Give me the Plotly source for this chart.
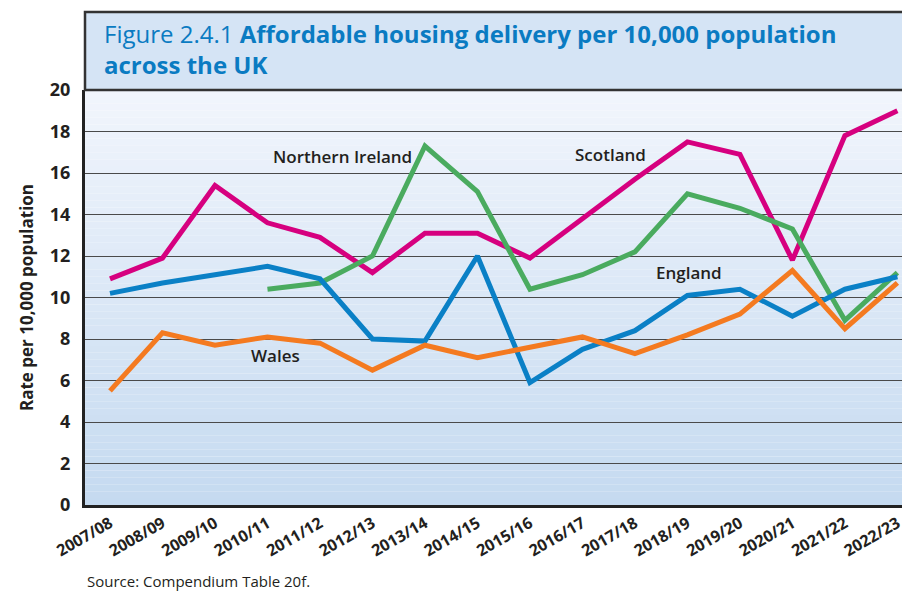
import plotly.graph_objects as go

years = ["2007/08", "2008/09", "2009/10", "2010/11", "2011/12", "2012/13", "2013/14", "2014/15",
         "2015/16", "2016/17", "2017/18", "2018/19", "2019/20", "2020/21", "2021/22", "2022/23"]
scotland = [10.9, 11.9, 15.4, 13.6, 12.9, 11.2, 13.1, 13.1, 11.9, 13.8, 15.7, 17.5, 16.9, 11.8, 17.8, 19.0]
northern_ireland = [None, None, None, 10.4, 10.7, 12.0, 17.3, 15.1, 10.4, 11.1, 12.2, 15.0, 14.3, 13.3, 8.9, 11.2]
england = [10.2, 10.7, 11.1, 11.5, 10.9, 8.0, 7.9, 12.0, 5.9, 7.5, 8.4, 10.1, 10.4, 9.1, 10.4, 11.0]
wales = [5.5, 8.3, 7.7, 8.1, 7.8, 6.5, 7.7, 7.1, 7.6, 8.1, 7.3, 8.2, 9.2, 11.3, 8.5, 10.7]
y_ticks = [0, 2, 4, 6, 8, 10, 12, 14, 16, 18, 20]

FONT = "Open Sans"
DARK = "#231f20"

series = [
    ("Scotland", scotland, "#d6007f"),
    ("Northern Ireland", northern_ireland, "#4aab5f"),
    ("England", england, "#0a80c6"),
    ("Wales", wales, "#f47a20"),
]

fig = go.Figure()
for name, vals, col in series:
    fig.add_trace(go.Scatter(x=list(range(len(years))), y=vals, name=name, mode="lines",
                             line=dict(color=col, width=5), connectgaps=False,
                             showlegend=False, hoverinfo="skip"))

# gradient background of plot area
top = (241, 245, 252)
bot = (197, 218, 240)
n = 60
for i in range(n):
    t = i / (n - 1)
    c = tuple(round(top[k] + (bot[k] - top[k]) * t) for k in range(3))
    fig.add_shape(type="rect", xref="x domain", yref="y domain",
                  x0=0, x1=1, y0=1 - i / n, y1=1 - (i + 1) / n,
                  fillcolor="rgb(%d,%d,%d)" % c, line=dict(width=0), layer="below")

# title box
fig.add_shape(type="rect", xref="paper", yref="paper", x0=0, x1=1.01,
              y0=1.0, y1=1 + 78 / 415, fillcolor="#d5e4f5",
              line=dict(color="#333333", width=2.5), layer="above")

labels = [("Northern Ireland", 4.42, 16.8), ("Scotland", 9.53, 16.9),
          ("England", 11.03, 11.2), ("Wales", 3.16, 7.2)]
for txt, xi, yv in labels:
    fig.add_annotation(x=xi, y=yv, xref="x", yref="y", text=txt, showarrow=False,
                       font=dict(family=FONT, size=17, color=DARK, weight=600))

fig.add_annotation(xref="paper", yref="paper", x=0, y=-64 / 415, xanchor="left", yanchor="top",
                   showarrow=False, text="Source: Compendium Table 20f.",
                   font=dict(family=FONT, size=15, color=DARK))

fig.add_annotation(xref="paper", yref="paper", x=0.021, y=1 + 75 / 415, xanchor="left", yanchor="top",
                   align="left", showarrow=False,
                   text="Figure 2.4.1 <b>Affordable housing delivery per 10,000 population<br>across the UK</b>",
                   font=dict(family=FONT, size=24, color="#0a7bc2"))

fig.update_layout(
    width=902, height=587,
    margin=dict(l=77, r=0, t=82, b=90),
    paper_bgcolor="white", plot_bgcolor="rgba(0,0,0,0)",
    font=dict(family=FONT, color=DARK),
)
fig.update_xaxes(
    tickmode="array", tickvals=list(range(len(years))), ticktext=years,
    range=[-0.476, 15.24], tickangle=-30, showgrid=False, zeroline=False,
    showline=True, linecolor="#222222", linewidth=3, ticks="",
    tickfont=dict(family=FONT, size=16, color=DARK, weight=700),
)
fig.update_yaxes(
    range=[0, 20], tickvals=y_ticks, showgrid=True, gridcolor="#4a4a4a", gridwidth=1.3,
    zeroline=False, showline=True, linecolor="#222222", linewidth=3, ticks="",
    ticklabelstandoff=8,
    tickfont=dict(family=FONT, size=18, color=DARK, weight=700),
    title=dict(text="Rate per 10,000 population", standoff=12,
               font=dict(family=FONT, size=17, color=DARK, weight=700)),
)

fig.write_html("out.html")
